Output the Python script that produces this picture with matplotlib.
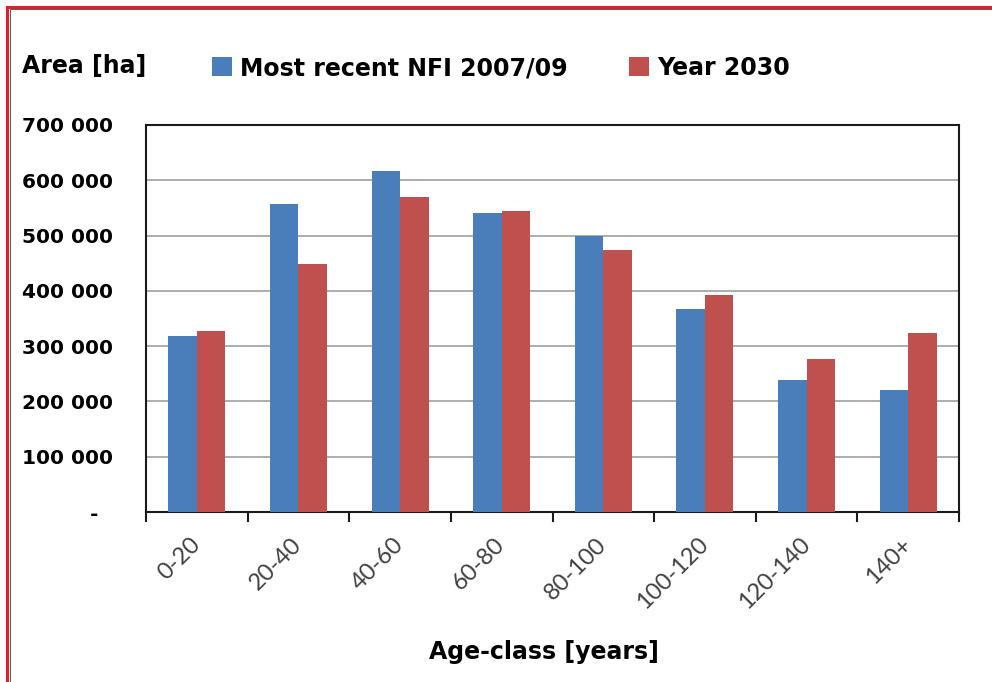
import matplotlib.pyplot as plt
import numpy as np
from matplotlib.patches import Rectangle
from matplotlib.ticker import FuncFormatter, FixedLocator

# Area by age class, national forest inventory vs. projection
age_classes = ["0-20", "20-40", "40-60", "60-80", "80-100", "100-120", "120-140", "140+"]
nfi_2007_09 = [319000, 557000, 617000, 541000, 500000, 368000, 239000, 220000]
year_2030 = [328000, 448000, 570000, 544000, 474000, 393000, 277000, 323000]
y_ticks = [0, 100000, 200000, 300000, 400000, 500000, 600000, 700000]

BLUE = "#4A7EBB"
RED = "#C0504D"
BOLD = "DejaVu Sans"
LIGHT = "Lato"


def fmt_area(v, pos):
    if v == 0:
        return "-  "
    return f"{v:,.0f}".replace(",", " ")


def main():
    fig = plt.figure(figsize=(9.92, 6.82), dpi=100)
    ax = fig.add_axes([146 / 992, 1 - 512 / 682, (959 - 146) / 992, (512 - 125) / 682])

    x = np.arange(len(age_classes))
    w = 0.28
    b1 = ax.bar(x - w / 2, nfi_2007_09, width=w, color=BLUE, zorder=3,
                label="Most recent NFI 2007/09")
    b2 = ax.bar(x + w / 2, year_2030, width=w, color=RED, zorder=3,
                label="Year 2030")

    ax.set_xlim(-0.5, len(age_classes) - 0.5)
    ax.set_ylim(0, 700000)

    # horizontal grid
    ax.set_yticks(y_ticks)
    ax.yaxis.set_major_formatter(FuncFormatter(fmt_area))
    ax.grid(axis="y", color="#A0A0A0", linewidth=1.2, zorder=0)
    ax.tick_params(axis="y", length=0, pad=24)
    for lab in ax.get_yticklabels():
        lab.set_fontfamily(BOLD)
        lab.set_fontweight("bold")
        lab.set_fontsize(14.5)

    # ticks on category boundaries, labels at centres
    ax.xaxis.set_major_locator(FixedLocator(np.arange(len(age_classes) + 1) - 0.5))
    ax.xaxis.set_minor_locator(FixedLocator(x))
    ax.set_xticklabels([], minor=False)
    ax.set_xticklabels(age_classes, minor=True, rotation=45, ha="right",
                       va="center", rotation_mode="anchor",
                       fontfamily=LIGHT, fontsize=17, color="#404040")
    ax.tick_params(axis="x", which="major", length=7, width=1.5, color="#1a1a1a")
    ax.tick_params(axis="x", which="minor", length=0, pad=21)

    for s in ax.spines.values():
        s.set_color("#1a1a1a")
        s.set_linewidth(1.5)

    fig.text(22 / 992, 1 - 66 / 682, "Area [ha]", ha="left", va="center",
             fontfamily=BOLD, fontweight="bold", fontsize=17)
    fig.legend(handles=[b1, b2], loc="center left",
               bbox_to_anchor=(212 / 992, 1 - 68 / 682), ncol=2, frameon=False,
               borderpad=0, borderaxespad=0, handlelength=0.85, handleheight=0.85,
               handletextpad=0.34, columnspacing=2.6,
               prop={"family": BOLD, "weight": "bold", "size": 17})
    fig.text(544 / 992, 1 - 652 / 682, "Age-class [years]", ha="center", va="center",
             fontfamily=BOLD, fontweight="bold", fontsize=17)

    # red frame around the chart
    fig.add_artist(Rectangle((7 / 992, -0.1), 1.2, 1.1 - 6.5 / 682,
                             transform=fig.transFigure, fill=False,
                             edgecolor="#E0202A", linewidth=2.2))
    fig.add_artist(Rectangle((9.5 / 992, -0.1), 1.2, 1.1 - 9 / 682,
                             transform=fig.transFigure, fill=False,
                             edgecolor="#606060", linewidth=0.8))

    fig.savefig("out.png", dpi=100)


if __name__ == "__main__":
    main()
